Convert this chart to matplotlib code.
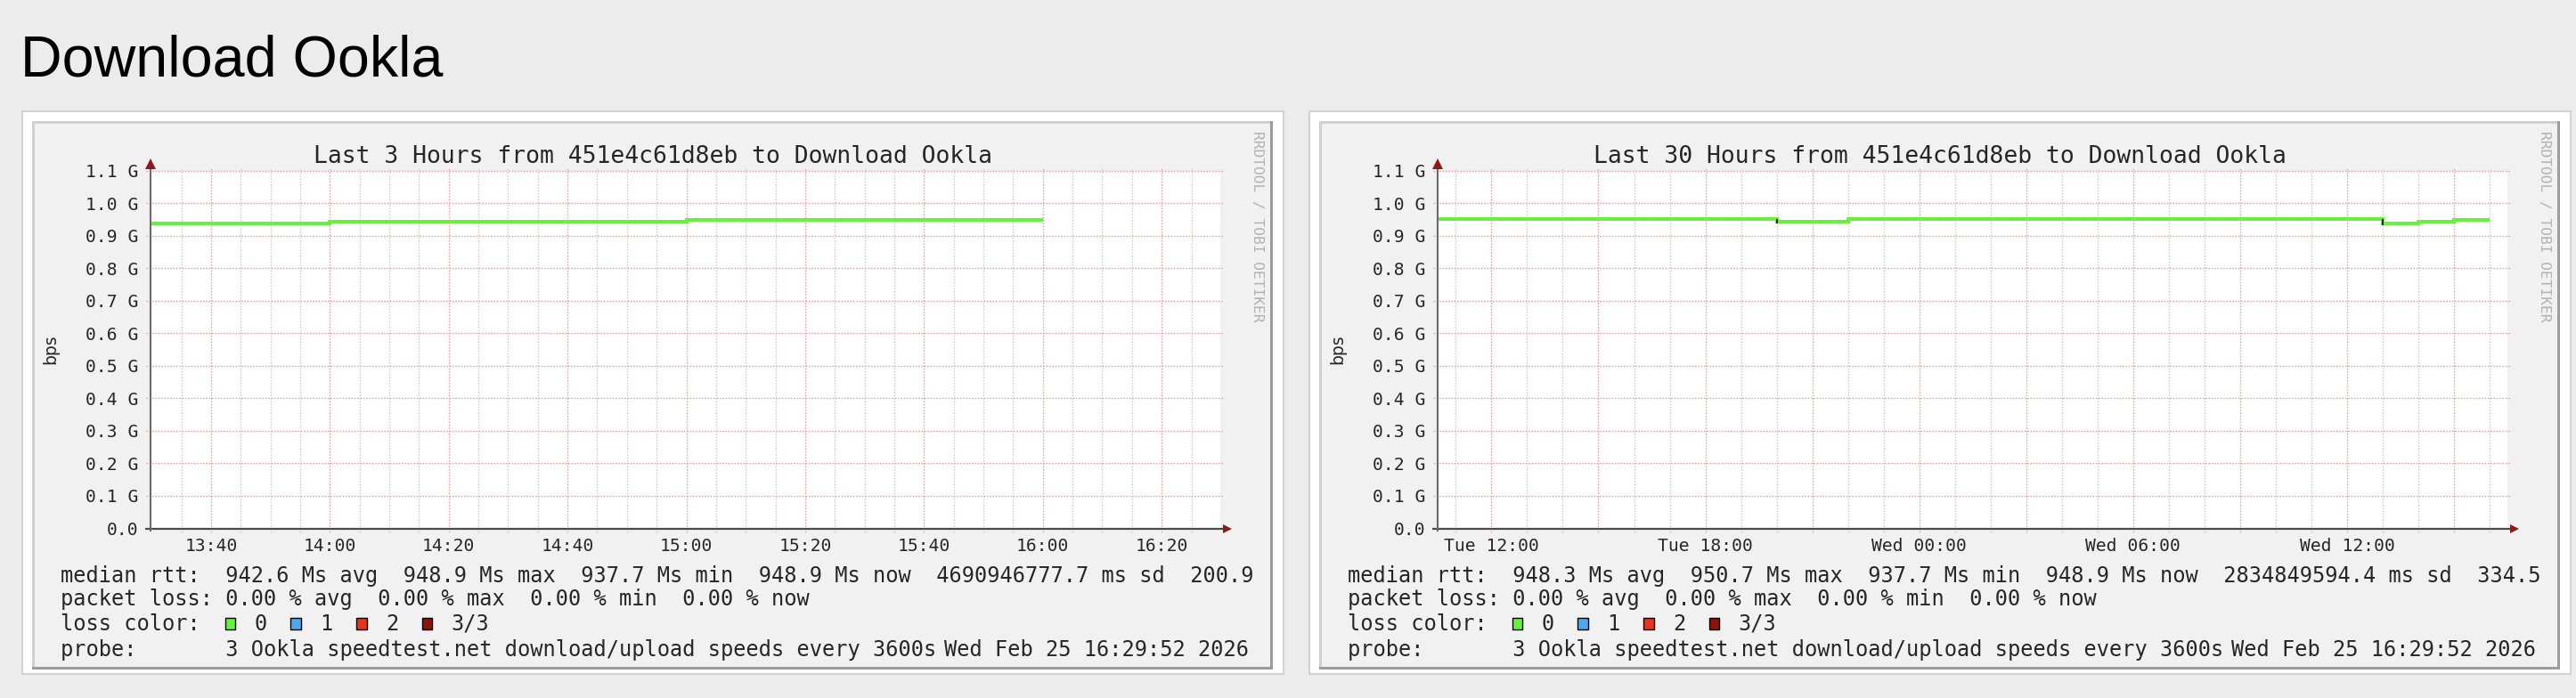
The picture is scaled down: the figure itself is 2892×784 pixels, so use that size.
import matplotlib
matplotlib.use("Agg")
import matplotlib.pyplot as plt
from matplotlib.patches import Rectangle

# ---------------- data ----------------
heading = "Download Ookla"

# left panel: minutes after 13:00 (Wed)
left_title = "Last 3 Hours from 451e4c61d8eb to Download Ookla"
left_xlim = (29.87, 209.87)
left_label_pos = [40, 60, 80, 100, 120, 140, 160, 180, 200]
left_labels = ["13:40", "14:00", "14:20", "14:40", "15:00", "15:20", "15:40", "16:00", "16:20"]
left_major_grid = [40, 60, 80, 100, 120, 140, 160, 180, 200]
left_minor_grid = [35, 45, 50, 55, 65, 70, 75, 85, 90, 95, 105, 110, 115, 125, 130, 135,
                   145, 150, 155, 165, 170, 175, 185, 190, 195, 205]
left_edges = [29.87, 60, 120, 180]
left_values = [937.7, 943.0, 948.9]          # Ms (median rtt == download speed)
left_stats = ["median rtt:  942.6 Ms avg  948.9 Ms max  937.7 Ms min  948.9 Ms now  4690946777.7 ms sd  200.9",
              "packet loss: 0.00 % avg  0.00 % max  0.00 % min  0.00 % now"]

# right panel: hours after Tue 00:00
right_title = "Last 30 Hours from 451e4c61d8eb to Download Ookla"
right_xlim = (10.4978, 40.4978)
right_label_pos = [12, 18, 24, 30, 36]
right_labels = ["Tue 12:00", "Tue 18:00", "Wed 00:00", "Wed 06:00", "Wed 12:00"]
right_major_grid = [12, 15, 18, 21, 24, 27, 30, 33, 36, 39]
right_minor_grid = [11, 13, 14, 16, 17, 19, 20, 22, 23, 25, 26, 28, 29, 31, 32, 34, 35, 37, 38, 40]
right_edges = [10.4978, 20, 22, 37, 38, 39, 40]
right_values = [950.7, 944.0, 950.7, 937.7, 943.0, 948.9]
right_stats = ["median rtt:  948.3 Ms avg  950.7 Ms max  937.7 Ms min  948.9 Ms now  2834849594.4 ms sd  334.5",
               "packet loss: 0.00 % avg  0.00 % max  0.00 % min  0.00 % now"]

y_ticks = [0.0, 0.1, 0.2, 0.3, 0.4, 0.5, 0.6, 0.7, 0.8, 0.9, 1.0, 1.1]   # G
y_labels = ["0.0", "0.1 G", "0.2 G", "0.3 G", "0.4 G", "0.5 G", "0.6 G", "0.7 G",
            "0.8 G", "0.9 G", "1.0 G", "1.1 G"]
y_unit = "bps"

loss_names = ["0", "1", "2", "3/3"]
loss_colors = ["#66f23c", "#4fa8ec", "#e8341f", "#8c1409"]
probe_text = "probe:       3 Ookla speedtest.net download/upload speeds every 3600s"
stamp = "Wed Feb 25 16:29:52 2026"
watermark = "RRDTOOL / TOBI OETIKER"

# ---------------- layout ----------------
W, H = 2892, 784
fig = plt.figure(figsize=(W / 100, H / 100), dpi=100)
fig.patch.set_facecolor("#ececec")
MONO = "DejaVu Sans Mono"
TXT = "#262626"


def fx(x):
    return x / W


def fy(y):
    return 1 - y / H


def rect(x0, y0, x1, y1, z=-5, **kw):
    fig.add_artist(Rectangle((fx(x0), fy(y1)), (x1 - x0) / W, (y1 - y0) / H,
                             transform=fig.transFigure, zorder=z, **kw))


def ftext(x, y, s, **kw):
    fig.text(fx(x), fy(y), s, **kw)


fig.text(fx(23), fy(85), heading, fontsize=46.5, family="Liberation Sans",
         color="black", va="baseline", ha="left")

AX_L, AX_R, AX_T, AX_B = 169.3, 1370.0, 191.7, 593.5
PX_PER_G = 351.5


def panel(dx, title, xlim, label_pos, labels, major, minor, edges, values, stats):
    # card and rrd image frame
    rect(25 + dx, 125, 1441 + dx, 757, z=-10, facecolor="white", edgecolor="#d2d2d2", lw=1.5)
    rect(36 + dx, 136, 1429 + dx, 752, z=-9, facecolor="#f1f1f1", edgecolor="none")
    rect(36 + dx, 136, 1429 + dx, 139, z=-8, facecolor="#d0d0d0", edgecolor="none")
    rect(36 + dx, 136, 39 + dx, 752, z=-8, facecolor="#d0d0d0", edgecolor="none")
    rect(1426 + dx, 136, 1429 + dx, 752, z=-8, facecolor="#9c9c9c", edgecolor="none")
    rect(36 + dx, 749, 1429 + dx, 752, z=-8, facecolor="#9c9c9c", edgecolor="none")

    ax = fig.add_axes([fx(AX_L + dx), fy(AX_B), (AX_R - AX_L) / W, (AX_B - AX_T) / H])
    ax.set_facecolor("white")
    for s in ax.spines.values():
        s.set_visible(False)
    ax.set_xlim(*xlim)
    ax.set_ylim(0, (AX_B - AX_T) / PX_PER_G * 0.1)

    xt = ax.get_xaxis_transform()
    yt = ax.get_yaxis_transform()
    ax.vlines(minor, -0.012, 1.009, transform=xt, colors="#cdcdcd", lw=1.0,
              linestyles=(0, (1.2, 1.2)), clip_on=False, zorder=1)
    ax.vlines(major, -0.012, 1.009, transform=xt, colors="#eaa0a0", lw=1.0,
              linestyles=(0, (1.2, 1.2)), clip_on=False, zorder=1.1)
    ax.hlines(y_ticks[1:], -0.004, 1.0025, transform=yt, colors="#eaa0a0", lw=1.0,
              linestyles=(0, (1.2, 1.2)), clip_on=False, zorder=1.1)

    vals_g = [v / 1000 for v in values]
    ax.stairs(vals_g, edges, baseline=None, color="#66f23c", lw=2.9, zorder=3)
    # downward transitions are drawn dark
    for i in range(1, len(vals_g)):
        if vals_g[i] < vals_g[i - 1]:
            ax.vlines(edges[i], vals_g[i] - 0.005, vals_g[i - 1], colors="#2a2a2a",
                      lw=1.4, zorder=3.5)

    # axes with arrows
    ax.plot([-0.005, 1.006], [0, 0], transform=ax.transAxes, color="#4a4a4a", lw=1.6,
            clip_on=False, zorder=4, solid_capstyle="butt")
    ax.plot([0, 0], [-0.009, 1.015], transform=ax.transAxes, color="#6a6a6a", lw=1.5,
            clip_on=False, zorder=4, solid_capstyle="butt")
    ax.plot([1.0066], [0], marker=">", ms=7, color="#8b1a1a", transform=ax.transAxes,
            clip_on=False, zorder=5, mew=0)
    ax.plot([0], [1.0195], marker="^", ms=8, color="#8b1a1a", transform=ax.transAxes,
            clip_on=False, zorder=5, mew=0)

    ax.set_xticks(label_pos, labels)
    ax.set_yticks(y_ticks, y_labels)
    ax.tick_params(axis="x", length=0, pad=7.3, labelsize=14.1, labelcolor=TXT)
    ax.tick_params(axis="y", length=0, pad=9.8, labelsize=14.1, labelcolor=TXT)
    for lab in ax.get_xticklabels() + ax.get_yticklabels():
        lab.set_family(MONO)

    ftext(57 + dx, 392, y_unit, fontsize=13.5, family="DejaVu Sans", rotation=90,
          ha="center", va="center", color=TXT)
    ftext(732.5 + dx, 183.3, title, fontsize=19.0, family=MONO, ha="center",
          va="baseline", color=TXT)
    ftext(1411.7 + dx, 146.7, watermark, fontsize=11.7, family=MONO, rotation=-90,
          ha="center", va="top", color="#b2b2b2")

    LS = 17.0
    rows = [654, 680, 708, 737]
    ftext(68.2 + dx, rows[0], stats[0], fontsize=LS, family=MONO, va="baseline", color=TXT)
    ftext(68.2 + dx, rows[1], stats[1], fontsize=LS, family=MONO, va="baseline", color=TXT)
    ftext(68.2 + dx, rows[2], "loss color:", fontsize=LS, family=MONO, va="baseline", color=TXT)
    for i, (nm, col) in enumerate(zip(loss_names, loss_colors)):
        bx = 252.7 + dx + 73.7 * i
        rect(bx, rows[2] - 14, bx + 11.5, rows[2] - 1, z=2, facecolor=col,
             edgecolor="black", lw=1.0)
        ftext(bx + 33, rows[2], nm, fontsize=LS, family=MONO, va="baseline", color=TXT)
    ftext(68.2 + dx, rows[3], probe_text, fontsize=LS, family=MONO, va="baseline", color=TXT)
    ftext(1402 + dx, rows[3], stamp, fontsize=LS, family=MONO, va="baseline", ha="right",
          color=TXT)


panel(0, left_title, left_xlim, left_label_pos, left_labels, left_major_grid,
      left_minor_grid, left_edges, left_values, left_stats)
panel(1445, right_title, right_xlim, right_label_pos, right_labels, right_major_grid,
      right_minor_grid, right_edges, right_values, right_stats)

fig.savefig("out.png", dpi=100, facecolor=fig.get_facecolor())
